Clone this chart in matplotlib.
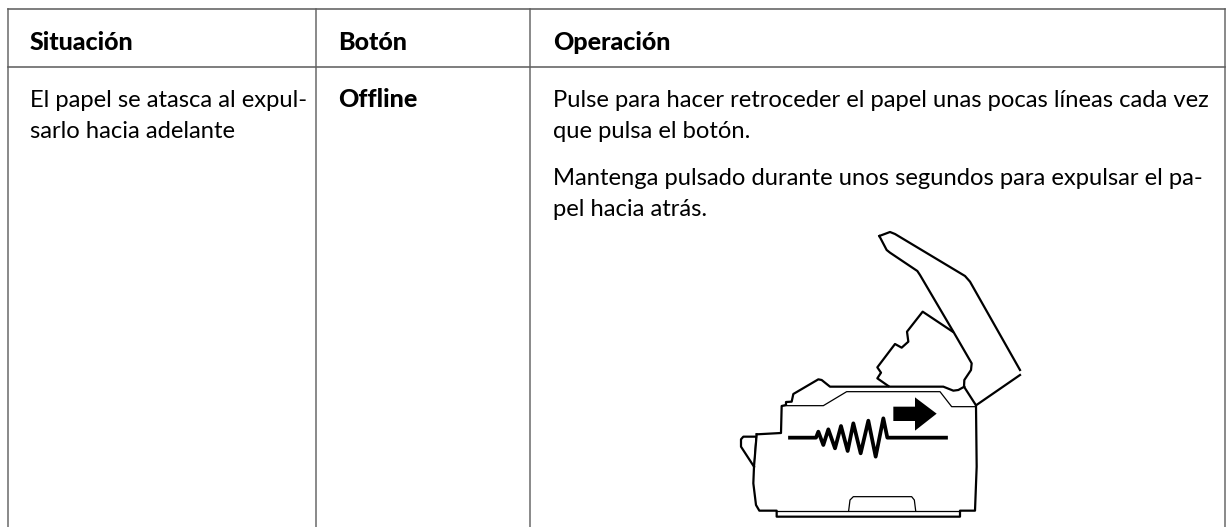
# -*- coding: utf-8 -*-
import matplotlib
matplotlib.use("Agg")
import matplotlib.pyplot as plt

##table text
headers = ["Situación", "Botón", "Operación"]
situacion = ["El papel se atasca al expul-", "sarlo hacia adelante"]
boton = "Offline"
operacion = ["Pulse para hacer retroceder el papel unas pocas líneas cada vez",
             "que pulsa el botón.",
             "Mantenga pulsado durante unos segundos para expulsar el pa-",
             "pel hacia atrás."]
operacion_base = [107, 138.5, 185, 216.5]
situacion_base = [107, 138.5]
col_lines = [7.7, 316, 530, 1225]
row_lines = [8.7, 66.7]
text_x = [30, 338, 553]

flap_outer = [(598,-42),(630,-54),(645,-48),(855,78),(870,95),(1020,360)]
flap_inner = [(598,-42),(620,0),(630,8),(712,63),(720,75),(820,245),(875,340),(873,360),
              (853,390),(852,410),(888,466),(1020,375)]
paper = [(625,408),(592,385),(603,368),(592,352),(645,282),(665,293),(685,275),(681,245),
         (728,185),(818,245)]
body_top = [(230,553),(303,549),(305,468),(318,465),(318,456),(335,455),(340,432),(415,388),
            (425,390),(450,410),(790,410),(820,422),(835,420),(853,410)]
body_rest = [(230,553),(222,650),(220,700),(228,765),(238,782),(290,782),(290,800),(840,800),
             (840,782),(885,782),(890,650),(888,466)]
tray = [(222,650),(183,590),(183,568),(190,560),(228,560)]
thin_left = [(228,560),(222,650)]
thin_top = [(305,467),(430,467),(500,425),(780,425),(815,470),(888,470)]
thin_base = [(290,782),(840,782)]
tab = [(506,782),(510,750),(520,740),(695,740),(703,750),(707,782)]
spring = [(330,563),(408,563),(415,545),(430,585),(445,538),(465,595),(483,528),(503,603),
          (520,520),(542,610),(565,512),(587,620),(610,505),(622,563),(798,563)]
arrow = [(640,470),(705,470),(705,442),(770,491),(705,542),(705,513),(640,513)]

def crop(pts):
    return [680+p[0]/3 for p in pts], [250+p[1]/3 for p in pts]

plt.rcParams['font.family'] = ['Lato', 'DejaVu Sans']
fig = plt.figure(figsize=(12.28,5.27), dpi=100)
ax = fig.add_axes([0,0,1,1])
ax.set_xlim(0,1228)
ax.set_ylim(527,0)
ax.axis('off')

#grid
for x in col_lines:
    ax.plot([x,x],[row_lines[0],527],color='#707070',lw=1.15)
for y in row_lines:
    ax.plot([col_lines[0],col_lines[-1]],[y,y],color='#606060',lw=1.15)

#text
fs = 17.1
fs_bold = 18
for x,h in zip(text_x,headers):
    ax.text(x,50,h,fontsize=fs_bold,fontweight=900,color='black',va='baseline')
for s,y in zip(situacion,situacion_base):
    ax.text(text_x[0],y,s,fontsize=fs,color='black',va='baseline')
ax.text(text_x[1],107,boton,fontsize=fs_bold,fontweight=900,color='black',va='baseline')
for s,y in zip(operacion,operacion_base):
    ax.text(text_x[2],y,s,fontsize=fs,color='black',va='baseline')

#printer
for pts in [flap_outer,flap_inner,paper,body_top,body_rest,tray]:
    xs,ys = crop(pts)
    ax.plot(xs,ys,color='black',lw=1.6,solid_joinstyle='round')
for pts in [thin_left,thin_top,thin_base,tab]:
    xs,ys = crop(pts)
    ax.plot(xs,ys,color='black',lw=0.9)
xs,ys = crop(spring)
ax.plot(xs,ys,color='black',lw=2.7,solid_joinstyle='round')
xs,ys = crop(arrow)
ax.fill(xs,ys,color='black',lw=0)

fig.savefig('out.png',dpi=100)
